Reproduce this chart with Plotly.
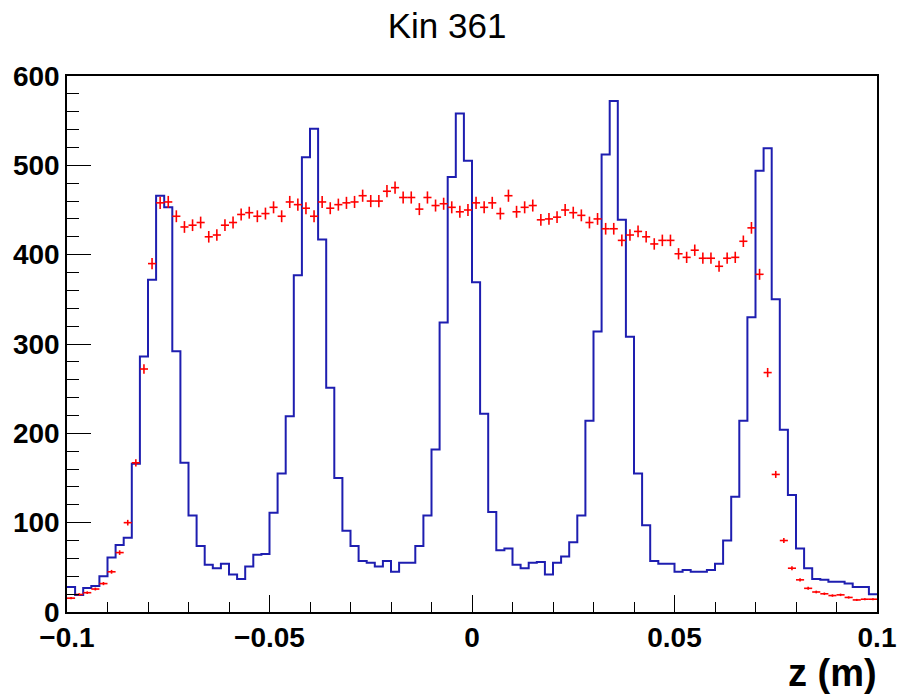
import numpy as np
import plotly.graph_objects as go

# ---- data ----
x_min, x_max, n_bins = -0.1, 0.1, 100

blue_counts = [
    28, 19, 27, 29, 40, 61, 75, 83, 166, 286,
    372, 466, 453, 292, 167, 108, 74, 53, 49, 54,
    42, 37, 51, 64, 65, 111, 155, 219, 377, 509,
    541, 417, 251, 150, 91, 74, 57, 55, 51, 57,
    45, 55, 55, 74, 108, 182, 324, 487, 558, 505,
    369, 222, 112, 69, 71, 53, 49, 55, 56, 42,
    55, 62, 78, 108, 214, 314, 512, 572, 439, 308,
    155, 97, 57, 54, 54, 45, 47, 45, 45, 47,
    54, 80, 129, 214, 330, 494, 519, 350, 204, 131,
    71, 49, 37, 36, 34, 34, 32, 28, 28, 20,
]

red_counts = [
    15.5, 19.6, 21.6, 25.7, 31.8, 45, 66.5, 100, 167, 272,
    390, 458, 459, 443, 431, 433, 436, 420, 422, 433,
    436, 445, 447, 443, 446, 453, 443, 459, 456, 452,
    443, 459, 452, 456, 458, 459, 466, 460, 460, 471,
    475, 464, 464, 451, 464, 455, 457, 453, 448, 450,
    458, 453, 458, 446, 466, 448, 453, 455, 439, 440,
    442, 450, 447, 444, 436, 440, 429, 429, 416, 422,
    426, 420, 412, 416, 416, 401, 397, 405, 396, 396,
    387, 396, 397, 415, 430, 378, 268, 154, 80, 49,
    36, 26.5, 22.4, 20.4, 18.4, 19.2, 16.3, 13.5, 14.3, 14.3,
]
red_err_scale = 0.1  # weight of the scaled (red) histogram

y_tick_vals = [0, 100, 200, 300, 400, 500, 600]
x_tick_vals = [-0.1, -0.05, 0, 0.05, 0.1]
x_tick_text = ["\u22120.1", "\u22120.05", "0", "0.05", "0.1"]

title_text = "Kin 361"
x_title = "z (m)"

# ---- derived ----
edges = np.linspace(x_min, x_max, n_bins + 1)
centers = 0.5 * (edges[:-1] + edges[1:])
half_w = 0.5 * (edges[1] - edges[0])
blue = np.array(blue_counts, dtype=float)
red = np.array(red_counts, dtype=float)
red_err = np.sqrt(red * red_err_scale)

W, H = 908, 695
ml, mr, mt, mb = 67, 25, 76, 83

fig = go.Figure()

fig.add_trace(go.Scatter(
    x=edges, y=np.append(blue, blue[-1]),
    mode="lines", line=dict(color="#1e1eb0", width=2, shape="hv"),
    hoverinfo="skip", showlegend=False,
))

fig.add_trace(go.Scatter(
    x=centers, y=red, mode="markers",
    marker=dict(size=1, color="red"),
    error_x=dict(type="constant", value=half_w, color="red", thickness=1.6, width=0),
    error_y=dict(type="data", array=red_err, color="red", thickness=1.6, width=0),
    showlegend=False,
))

tick_font = dict(family="Liberation Sans", size=28, color="black", weight="bold")

fig.update_layout(
    width=W, height=H,
    margin=dict(l=ml, r=mr, t=mt, b=mb, pad=0),
    paper_bgcolor="white", plot_bgcolor="white",
    title=dict(text=title_text, x=447 / W, xref="container", xanchor="center",
               y=1 - 26 / H, yref="container", yanchor="middle",
               font=dict(family="Liberation Sans", size=35, color="black")),
    xaxis=dict(
        range=[x_min, x_max], showgrid=False, zeroline=False,
        showline=True, linecolor="black", linewidth=1.5, mirror=True,
        ticks="inside", ticklen=17, tickwidth=1.3, tickcolor="black",
        tickvals=x_tick_vals, ticktext=x_tick_text, tickfont=tick_font,
        minor=dict(ticks="inside", dtick=0.01, tick0=0, ticklen=10,
                   tickwidth=1.3, tickcolor="black", showgrid=False),
    ),
    yaxis=dict(
        range=[0, 600], showgrid=False, zeroline=False,
        showline=True, linecolor="black", linewidth=1.5, mirror=True,
        ticks="inside", ticklen=24, tickwidth=1.3, tickcolor="black",
        tickvals=y_tick_vals, tickfont=tick_font,
        minor=dict(ticks="inside", dtick=20, tick0=0, ticklen=12,
                   tickwidth=1.3, tickcolor="black", showgrid=False),
    ),
    annotations=[dict(
        text=x_title, xref="paper", yref="paper",
        x=(885 - ml) / (W - ml - mr), y=(612 - 673) / (H - mt - mb),
        xanchor="right", yanchor="middle", showarrow=False,
        font=dict(family="Liberation Sans", size=38, color="black", weight="bold"),
    )],
)

fig.write_html("out.html")
